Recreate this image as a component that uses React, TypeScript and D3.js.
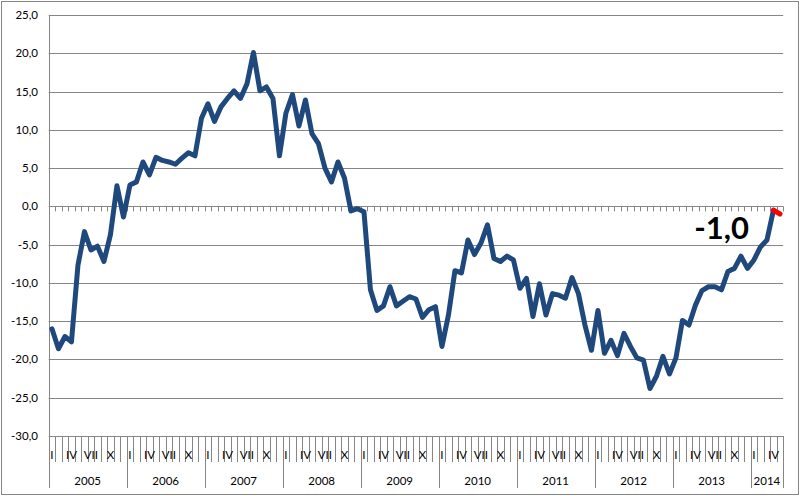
import React from "react";
import * as d3 from "d3";

const years = ["2005", "2006", "2007", "2008", "2009", "2010", "2011", "2012", "2013", "2014"];
const monthsPerYear = [12, 12, 12, 12, 12, 12, 12, 12, 12, 5];
const monthLabels: Record<number, string> = { 0: "I", 3: "IV", 6: "VII", 9: "X" };
const yTicks = [25, 20, 15, 10, 5, 0, -5, -10, -15, -20, -25, -30];

const values2005 = [-16.0, -18.6, -17.0, -17.7, -7.7, -3.3, -5.7, -5.2, -7.2, -3.7, 2.7, -1.4];
const values2006 = [2.8, 3.2, 5.8, 4.1, 6.4, 6.0, 5.8, 5.5, 6.3, 7.0, 6.6, 11.5];
const values2007 = [13.4, 11.1, 13.0, 14.1, 15.1, 14.1, 16.0, 20.1, 15.1, 15.6, 14.1, 6.6];
const values2008 = [12.2, 14.6, 10.5, 13.9, 9.5, 8.2, 5.0, 3.2, 5.8, 3.7, -0.6, -0.3];
const values2009 = [-0.7, -10.9, -13.6, -13.0, -10.5, -13.0, -12.4, -11.8, -12.1, -14.5, -13.5, -13.1];
const values2010 = [-18.3, -14.2, -8.4, -8.7, -4.4, -6.3, -4.8, -2.4, -6.8, -7.2, -6.5, -7.0];
const values2011 = [-10.7, -9.4, -14.4, -10.1, -14.2, -11.4, -11.6, -12.0, -9.3, -11.4, -15.5, -18.8];
const values2012 = [-13.6, -19.2, -17.5, -19.5, -16.6, -18.3, -19.8, -20.1, -23.8, -22.2, -19.6, -21.9];
const values2013 = [-19.8, -14.9, -15.5, -12.9, -11.0, -10.5, -10.5, -10.9, -8.5, -8.1, -6.5, -8.1];
const values2014 = [-7.0, -5.3, -4.4, -0.5, -1.0];

const lastLabel = "-1,0";

const allValues = [
  ...values2005, ...values2006, ...values2007, ...values2008, ...values2009,
  ...values2010, ...values2011, ...values2012, ...values2013, ...values2014,
];

const W = 800;
const H = 496;
const left = 48.7;
const right = 783.2;
const top = 15;
const bottom = 436;
const FONT = "Lato, 'Open Sans', sans-serif";
const GRID = "#868686";
const BLUE = "#1F497D";

export default function App() {
  const n = allValues.length;
  const idx = d3.range(n);
  const x = d3.scaleBand<number>().domain(idx).range([left, right]).paddingInner(0).paddingOuter(0);
  const y = d3.scaleLinear().domain([-30, 25]).range([bottom, top]);
  const bw = x.bandwidth();
  const cx = (i: number) => (x(i) as number) + bw / 2;
  const fmt = (v: number) => d3.format(".1f")(v).replace(".", ",").replace("−", "-");

  const line = d3.line<number>().x((_, i) => cx(i)).y((d) => y(d));
  const mainPath = line(allValues.slice(0, n - 1)) as string;
  const redPath = d3.line<number>().x((_, i) => cx(n - 2 + i)).y((d) => y(d))(allValues.slice(n - 2)) as string;

  const yearStarts: number[] = [];
  let acc = 0;
  monthsPerYear.forEach((m) => {
    yearStarts.push(acc);
    acc += m;
  });

  const monthTicks = d3.range(n + 1).map((i) => left + i * bw);

  return (
    <svg width={W} height={H} style={{ position: "absolute", left: 0, top: 0, background: "#fff" }}>
      <rect x={1.5} y={1.5} width={W - 3} height={H - 3} fill="#fff" stroke={GRID} strokeWidth={1} />
      {yTicks.map((t) => (
        <g key={t}>
          <line x1={left} x2={right} y1={Math.round(y(t)) + 0.5} y2={Math.round(y(t)) + 0.5} stroke={GRID} strokeWidth={1} />
          <text x={38} y={y(t)} dy="0.35em" textAnchor="end" fontFamily={FONT} fontSize={11.5} fill="#000">
            {fmt(t)}
          </text>
        </g>
      ))}
      <line x1={Math.round(left) + 0.5} x2={Math.round(left) + 0.5} y1={top} y2={488} stroke={GRID} strokeWidth={1} />
      {monthTicks.map((tx, i) => (
        <line key={"z" + i} x1={Math.round(tx) + 0.5} x2={Math.round(tx) + 0.5} y1={y(0)} y2={y(0) + 5} stroke={GRID} strokeWidth={1} />
      ))}
      {monthTicks.map((tx, i) => (
        <line key={"m" + i} x1={Math.round(tx) + 0.5} x2={Math.round(tx) + 0.5} y1={bottom} y2={462} stroke={GRID} strokeWidth={1} />
      ))}
      {[...yearStarts, n].map((s, i) => (
        <line key={"y" + i} x1={Math.round(left + s * bw) + 0.5} x2={Math.round(left + s * bw) + 0.5} y1={bottom} y2={488} stroke={GRID} strokeWidth={1} />
      ))}
      {idx.map((i) => {
        const yi = yearStarts.filter((s) => s <= i).length - 1;
        const m = i - yearStarts[yi];
        const lab = monthLabels[m];
        if (!lab) return null;
        return (
          <text key={"ml" + i} x={cx(i)} y={459} textAnchor="middle" fontFamily={FONT} fontSize={11.5} fill="#000">
            {lab}
          </text>
        );
      })}
      {years.map((yr, i) => {
        const s = yearStarts[i];
        const e = s + monthsPerYear[i];
        return (
          <text key={yr} x={left + ((s + e) / 2) * bw} y={485} textAnchor="middle" fontFamily={FONT} fontSize={11.5} fill="#000">
            {yr}
          </text>
        );
      })}
      <path d={mainPath} fill="none" stroke={BLUE} strokeWidth={5} strokeLinejoin="round" strokeLinecap="round" />
      <path d={redPath} fill="none" stroke="#FF0000" strokeWidth={5} strokeLinejoin="round" strokeLinecap="round" />
      <text x={749} y={239} textAnchor="end" fontFamily={FONT} fontWeight={700} fontSize={31} fill="#000">
        {lastLabel}
      </text>
    </svg>
  );
}
